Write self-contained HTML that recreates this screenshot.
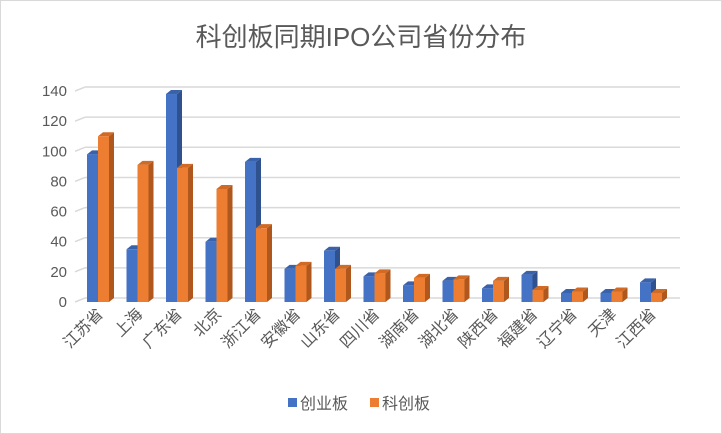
<!DOCTYPE html>
<html><head><meta charset="utf-8"><style>
body{margin:0;background:#fff}
svg{display:block;font-family:"Liberation Sans","Noto Sans CJK SC",sans-serif}
</style></head><body>
<svg id="c" width="722" height="434">
<rect x="0.5" y="0.5" width="721" height="433" fill="#fff" stroke="#d9d9d9"/>
<text x="361" y="46" text-anchor="middle" font-size="26" fill="#595959">科创板同期IPO公司省份分布</text>
<g id="grid"></g><g id="bars"></g><g id="labels"></g>
<g>
<rect x="288" y="398" width="9" height="9" fill="#4472c4"/>
<text x="300" y="409" font-size="16" fill="#595959">创业板</text>
<rect x="370" y="398" width="9" height="9" fill="#ed7d31"/>
<text x="382" y="409" font-size="16" fill="#595959">科创板</text>
</g>
</svg>
<script>
const categories=["江苏省","上海","广东省","北京","浙江省","安徽省","山东省","四川省","湖南省","湖北省","陕西省","福建省","辽宁省","天津","江西省"];
const chuangye=[98,35,138,40,93,22,34,17,11,14,9,18,6,6,13];
const kechuang=[110,91,89,75,49,24,22,19,16,15,14,8,7,7,6];
const ticks=[0,20,40,60,80,100,120,140];
const NS="http://www.w3.org/2000/svg";
const base=302,ppu=1.507,dx=5,dy=4,x0=87,step=39.5,bw=11;
const y=v=>base-v*ppu;
function mk(t,a,p){const e=document.createElementNS(NS,t);for(const k in a)e.setAttribute(k,a[k]);p.appendChild(e);return e;}
const G=document.getElementById('grid'),B=document.getElementById('bars'),L=document.getElementById('labels');
ticks.forEach(t=>{
 const yy=y(t);
 const l=mk('line',{x1:75,y1:yy,x2:75+10,y2:yy-4,stroke:'#d9d9d9','stroke-width':1.5},G);
 
 
 const g=mk('line',{x1:85,y1:yy-4,x2:680,y2:yy-4,stroke:'#d9d9d9','stroke-width':1.5},G);
 
 
 const tx=mk('text',{x:67,y:yy+5,'text-anchor':'end','font-size':15,fill:'#595959'},G);
 tx.textContent=t;
 
 
});
function bar(x,v,front,side,top,name){
 const g=mk('g',{},B);
 
 
 const yt=y(v);
 mk('polygon',{points:`${x+bw},${yt} ${x+bw+dx},${yt-dy} ${x+bw+dx},${base-dy} ${x+bw},${base}`,fill:side},g);
 mk('polygon',{points:`${x},${yt} ${x+dx},${yt-dy} ${x+bw+dx},${yt-dy} ${x+bw},${yt}`,fill:top},g);
 mk('rect',{x:x,y:yt,width:bw,height:base-yt,fill:front},g);
}
categories.forEach((c,i)=>{
 const x=x0+i*step;
 bar(x,chuangye[i],'#4472c4','#2f528f','#3a62aa','bar-chuangye-'+i);
 bar(x+bw,kechuang[i],'#ed7d31','#b0571d','#d06a25','bar-kechuang-'+i);
 const tx=mk('text',{x:0,y:0,'text-anchor':'end','font-size':16,fill:'#595959',transform:`translate(${x+bw+6},${base+13}) rotate(-45)`},L);
 tx.textContent=c;
 
 
});
</script>
</body></html>
